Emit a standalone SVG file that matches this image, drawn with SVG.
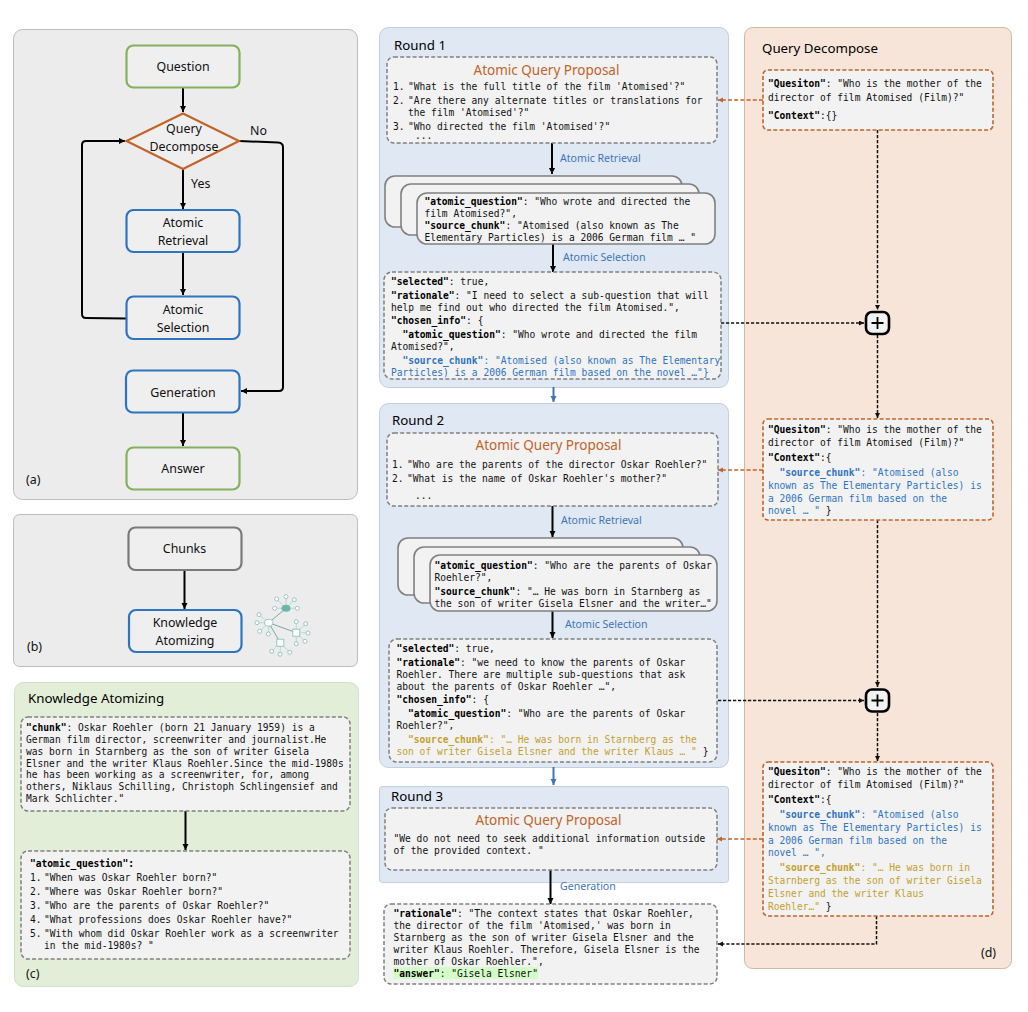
<svg xmlns="http://www.w3.org/2000/svg" width="1028" height="1012" viewBox="0 0 1028 1012">
<style>
.l{font-family:"Noto Sans","Open Sans","Liberation Sans",sans-serif;font-size:12.4px;fill:#111}
.c{text-anchor:middle}
.t{font-size:13.3px;fill:#000}
.pt{font-family:"Noto Sans","Open Sans","Liberation Sans",sans-serif;font-size:13.5px;fill:#c0642a;text-anchor:middle}
.s{font-family:"Noto Sans","Open Sans","Liberation Sans",sans-serif;font-size:10.6px;fill:#3f75b5}
.m{font-family:"DejaVu Sans Mono","Liberation Mono",monospace;font-size:9.6px;fill:#111}
.k{font-weight:700;fill:#000}
.b,.b .k{fill:#2f74c0}
.y,.y .k{fill:#c4a02c}
.panel{stroke-width:1}
.gp{fill:#ececec;stroke:#bdbdbd}
.bp{fill:#dfe8f3;stroke:#c3cfdb}
.n{fill:#efefef;stroke-width:2.2}
.gr{stroke:#85b05e}.bl{stroke:#2f74c0}.gy{stroke:#7a7a7a}
.d{fill:#f2f2f2;stroke:#808080;stroke-width:1.5;stroke-dasharray:4 2.2}
.o{fill:#f2f2f2;stroke:#c0642a;stroke-width:1.6;stroke-dasharray:4 2.2}
.st{fill:#f2f2f2;stroke:#808080;stroke-width:1.6}
.a{fill:none;stroke:#000;stroke-width:2;marker-end:url(#ab)}
.as{fill:none;stroke:#3f75b5;stroke-width:2;marker-end:url(#au)}
.ad{fill:none;stroke:#111;stroke-width:1.5;stroke-dasharray:3.2 1.8;marker-end:url(#ab2)}
.ao{fill:none;stroke:#c0642a;stroke-width:1.7;stroke-dasharray:4 2.2;marker-end:url(#ar)}
.ic{fill:#fff;stroke:#8cc3bd;stroke-width:.9}
.il{stroke:#6f9f9b;stroke-width:.9}
.is{stroke:#a5d0cb;stroke-width:.7}
.plus{fill:#f2f2f2;stroke:#000;stroke-width:2.6}
</style>
<defs>
<marker id="ab" markerUnits="userSpaceOnUse" markerWidth="7" markerHeight="7" refX="6" refY="3" orient="auto"><path d="M0 0L6 3L0 6z" fill="#000"/></marker>
<marker id="ab2" markerUnits="userSpaceOnUse" markerWidth="7" markerHeight="7" refX="5" refY="2.5" orient="auto"><path d="M0 0L5 2.5L0 5z" fill="#111"/></marker>
<marker id="au" markerUnits="userSpaceOnUse" markerWidth="7" markerHeight="7" refX="6" refY="3" orient="auto"><path d="M0 0L6 3L0 6z" fill="#3f75b5"/></marker>
<marker id="ar" markerUnits="userSpaceOnUse" markerWidth="7" markerHeight="7" refX="5" refY="2.5" orient="auto"><path d="M0 0L5 2.5L0 5z" fill="#c0642a"/></marker>
</defs>

<g id="panels">
<rect id="panel-a" class="panel gp" x="13.5" y="29.5" width="344" height="470" rx="9"/>
<rect id="panel-b" class="panel gp" x="13.5" y="514.5" width="344" height="152" rx="6"/>
<rect id="panel-c" class="panel" fill="#e3eed9" stroke="#d3dfc8" x="14.5" y="682.5" width="344" height="304" rx="9"/>
<rect id="panel-r1" class="panel bp" x="379.5" y="27.5" width="349" height="360" rx="9"/>
<rect id="panel-r2" class="panel bp" x="379.5" y="403.5" width="349" height="364" rx="9"/>
<rect id="panel-r3" class="panel bp" x="379.5" y="786.5" width="349" height="96" rx="3"/>
<rect id="panel-d" class="panel" fill="#f6e5d8" stroke="#cdb9a8" x="744.5" y="27.5" width="267" height="941" rx="8"/>
<text class="l" x="26" y="484">(a)</text>
<text class="l" x="27" y="651">(b)</text>
<text class="l" x="26" y="978">(c)</text>
<text class="l" x="981" y="957">(d)</text>
<text class="l t" x="28" y="703">Knowledge Atomizing</text>
<text class="l t" x="394" y="50">Round 1</text>
<text class="l t" x="392" y="425">Round 2</text>
<text class="l t" x="391" y="801">Round 3</text>
<text class="l t" x="762" y="53">Query Decompose</text>
</g>

<g id="connectors">
<path class="a" d="M183 87V112"/>
<path class="a" d="M183 169V209"/>
<path class="a" d="M183 252V295"/>
<path class="a" d="M126 318.500L86 318Q82 318 82 314V145Q82 141 86 141H125"/>
<path class="a" d="M239 141L278 142.500Q283 143 283 147V387Q283 391 279 391H241"/>
<path class="a" d="M183 412V446"/>
<path class="a" d="M184.500 570V609"/>
<path class="a" d="M185.500 811V850"/>
<path class="a" d="M552 143V174"/>
<path class="a" d="M553 244V272"/>
<path class="as" d="M553.500 387V402"/>
<path class="a" d="M552.500 506V537"/>
<path class="a" d="M552.500 611V638"/>
<path class="as" d="M553.500 767V785"/>
<path class="a" d="M550.500 870V904"/>
<path class="ao" d="M763 100H718"/>
<path class="ao" d="M763 470H718"/>
<path class="ao" d="M763 839H717"/>
<path class="ad" d="M877.500 130V310"/>
<path class="ad" d="M721 323H864"/>
<path class="ad" d="M877.500 335V418"/>
<path class="ad" d="M877.500 520V687"/>
<path class="ad" d="M718 700.500H864"/>
<path class="ad" d="M877.500 713V761"/>
<path class="ad" d="M876.500 916V944H718"/>
</g>

<g id="n-question"><rect class="n gr" x="126.500" y="45.500" width="113" height="42" rx="7"/><text class="l c" x="183" y="71">Question</text></g>
<g id="n-decompose"><path d="M183 113.500L239 141L183 169L126.500 141Z" fill="#efefef" stroke="#c0642a" stroke-width="2.200"/><text class="l c" x="184" y="133">Query</text><text class="l c" x="184" y="150.500">Decompose</text><text class="l" x="250" y="135">No</text><text class="l" x="191" y="188">Yes</text></g>
<g id="n-retrieval"><rect class="n bl" x="126.500" y="210" width="113" height="42" rx="7"/><text class="l c" x="183" y="227">Atomic</text><text class="l c" x="183" y="245">Retrieval</text></g>
<g id="n-selection"><rect class="n bl" x="126.500" y="296.500" width="113" height="42.500" rx="7"/><text class="l c" x="183" y="314">Atomic</text><text class="l c" x="183" y="332">Selection</text></g>
<g id="n-generation"><rect class="n bl" x="126" y="370.500" width="113.500" height="42" rx="7"/><text class="l c" x="183" y="397">Generation</text></g>
<g id="n-answer"><rect class="n gr" x="126.500" y="447.500" width="113" height="42" rx="7"/><text class="l c" x="183" y="473">Answer</text></g>
<g id="n-chunks"><rect class="n gy" x="128.500" y="527.500" width="113" height="42.500" rx="7"/><text class="l c" x="184.500" y="553">Chunks</text></g>
<g id="n-atomizing"><rect class="n bl" x="129" y="610" width="112.500" height="42" rx="7"/><text class="l c" x="185" y="627">Knowledge</text><text class="l c" x="185" y="645">Atomizing</text></g>

<g id="n-icon">
<path class="is" d="M286 608.300L276.700 599M286 608.300V596.700M286 608.300L294.300 599.700M286 608.300H274.700M286 608.300H297.300M268.700 622.700L259 614.700M268.700 622.700H257M268.700 622.700L259.700 631.300M268.700 622.700V634M296.300 632.700V621.700M296.300 632.700L305.700 623.700M296.300 632.700H308M296.300 632.700L305 641.300M296.300 632.700V643.700M280.300 642.700L271.700 651.300M280.300 642.700V654.300M280.300 642.700L289.700 652.300"/>
<path class="il" d="M268.700 622.700L286 608.300M268.700 622.700L296.300 632.700M268.700 622.700L280.300 642.700"/>
<circle class="ic" cx="276.700" cy="599" r="2"/><circle class="ic" cx="286" cy="596.700" r="2"/><circle class="ic" cx="294.300" cy="599.700" r="2"/><circle class="ic" cx="274.700" cy="608.300" r="2"/><circle class="ic" cx="297.300" cy="608.300" r="2"/>
<circle class="ic" cx="259" cy="614.700" r="2"/><circle class="ic" cx="257" cy="622.700" r="2"/><circle class="ic" cx="259.700" cy="631.300" r="2"/><circle class="ic" cx="268.300" cy="634" r="2"/>
<circle class="ic" cx="296.300" cy="621.700" r="2"/><circle class="ic" cx="305.700" cy="623.700" r="2"/><circle class="ic" cx="308" cy="633" r="2"/><circle class="ic" cx="305" cy="641.300" r="2"/><circle class="ic" cx="296.300" cy="643.700" r="2"/>
<circle class="ic" cx="271.700" cy="651.300" r="2"/><circle class="ic" cx="280" cy="654.300" r="2"/><circle class="ic" cx="289.700" cy="652.300" r="2"/>
<ellipse cx="286" cy="608.300" rx="4.500" ry="3.500" fill="#6cb5ad"/>
<ellipse class="ic" cx="268.700" cy="622.700" rx="4.200" ry="3.400"/>
<rect class="ic" x="292.800" y="629.200" width="7" height="7"/>
<rect class="ic" x="276.800" y="639.200" width="7" height="7"/>
</g>

<g id="n-chunk-text"><rect class="d" x="21" y="717" width="329" height="94" rx="7"/>
<text class="m" x="26" y="731"><tspan class="k">"chunk"</tspan>: Oskar Roehler (born 21 January 1959) is a</text>
<text class="m" x="26" y="743">German film director, screenwriter and journalist.He</text>
<text class="m" x="26" y="754.500">was born in Starnberg as the son of writer Gisela</text>
<text class="m" x="26" y="766.500">Elsner and the writer Klaus Roehler.Since the mid-1980s</text>
<text class="m" x="26" y="778">he has been working as a screenwriter, for, among</text>
<text class="m" x="26" y="790">others, Niklaus Schilling, Christoph Schlingensief and</text>
<text class="m" x="26" y="801.500">Mark Schlichter."</text></g>

<g id="n-atomic-questions"><rect class="d" x="21" y="851" width="329" height="108" rx="7"/>
<text class="m k" x="30" y="867">"atomic_question":</text>
<text class="m" x="30" y="881">1.</text><text class="m" x="44" y="881">"When was Oskar Roehler born?"</text>
<text class="m" x="30" y="895">2.</text><text class="m" x="44" y="895">"Where was Oskar Roehler born?"</text>
<text class="m" x="30" y="909">3.</text><text class="m" x="44" y="909">"Who are the parents of Oskar Roehler?"</text>
<text class="m" x="30" y="922.500">4.</text><text class="m" x="44" y="922.500">"What professions does Oskar Roehler have?"</text>
<text class="m" x="30" y="936.500">5.</text><text class="m" x="44" y="936.500">"With whom did Oskar Roehler work as a screenwriter</text>
<text class="m" x="44" y="948.500">in the mid-1980s? "</text></g>

<g id="n-r1-proposal"><rect class="d" x="387" y="57" width="330" height="86" rx="7"/>
<text class="pt" x="546.500" y="75">Atomic Query Proposal</text>
<text class="m" x="393" y="90">1.</text><text class="m" x="408" y="90">"What is the full title of the film 'Atomised'?"</text>
<text class="m" x="393" y="104">2.</text><text class="m" x="408" y="104">"Are there any alternate titles or translations for</text>
<text class="m" x="408" y="116">the film 'Atomised'?"</text>
<text class="m" x="393" y="130">3.</text><text class="m" x="408" y="130">"Who directed the film 'Atomised'?"</text>
<text class="m" x="415" y="139">...</text></g>

<g id="n-r1-stack"><rect class="st" x="385" y="176" width="297" height="51" rx="10"/><rect class="st" x="401" y="184" width="298" height="51" rx="10"/><rect class="st" x="417" y="193" width="298" height="51" rx="10"/>
<text class="m" x="424.500" y="205"><tspan class="k">"atomic_question"</tspan>: "Who wrote and directed the</text>
<text class="m" x="424.500" y="217">film Atomised?",</text>
<text class="m" x="424.500" y="229"><tspan class="k">"source_chunk"</tspan>: "Atomised (also known as The</text>
<text class="m" x="424.500" y="241">Elementary Particles) is a 2006 German film … "</text></g>

<g id="n-r1-selected"><rect class="d" x="384" y="272" width="337" height="107" rx="8"/>
<text class="m" x="391" y="285"><tspan class="k">"selected"</tspan>: true,</text>
<text class="m" x="391" y="299"><tspan class="k">"rationale"</tspan>: "I need to select a sub-question that will</text>
<text class="m" x="391" y="311">help me find out who directed the film Atomised.",</text>
<text class="m" x="391" y="324"><tspan class="k">"chosen_info"</tspan>: {</text>
<text class="m" x="402.500" y="338"><tspan class="k">"atomic_question"</tspan>: "Who wrote and directed the film</text>
<text class="m" x="391" y="350">Atomised?",</text>
<text class="m b" x="402.500" y="364"><tspan class="k">"source_chunk"</tspan>: "Atomised (also known as The Elementary</text>
<text class="m b" x="391" y="376">Particles) is a 2006 German film based on the novel …"}</text></g>

<g id="n-r2-proposal"><rect class="d" x="387" y="433" width="331" height="73" rx="7"/>
<text class="pt" x="548.500" y="450">Atomic Query Proposal</text>
<text class="m" x="392" y="468">1.</text><text class="m" x="407" y="468">"Who are the parents of the director Oskar Roehler?"</text>
<text class="m" x="392" y="482">2.</text><text class="m" x="407" y="482">"What is the name of Oskar Roehler's mother?"</text>
<text class="m" x="415" y="499">...</text></g>

<g id="n-r2-stack"><rect class="st" x="398" y="538" width="285" height="57" rx="10"/><rect class="st" x="414" y="547" width="286" height="56" rx="10"/><rect class="st" x="430" y="555" width="287" height="56" rx="10"/>
<text class="m" x="434.500" y="569"><tspan class="k">"atomic_question"</tspan>: "Who are the parents of Oskar</text>
<text class="m" x="434.500" y="581">Roehler?",</text>
<text class="m" x="434.500" y="595"><tspan class="k">"source_chunk"</tspan>: "… He was born in Starnberg as</text>
<text class="m" x="434.500" y="607">the son of writer Gisela Elsner and the writer…"</text></g>

<g id="n-r2-selected"><rect class="d" x="389" y="639" width="328" height="123" rx="8"/>
<text class="m" x="396.500" y="652"><tspan class="k">"selected"</tspan>: true,</text>
<text class="m" x="396.500" y="666"><tspan class="k">"rationale"</tspan>: "we need to know the parents of Oskar</text>
<text class="m" x="396.500" y="677.500">Roehler. There are multiple sub-questions that ask</text>
<text class="m" x="396.500" y="689.500">about the parents of Oskar Roehler …",</text>
<text class="m" x="396.500" y="703"><tspan class="k">"chosen_info"</tspan>: {</text>
<text class="m" x="408" y="717"><tspan class="k">"atomic_question"</tspan>: "Who are the parents of Oskar</text>
<text class="m" x="396.500" y="729">Roehler?",</text>
<text class="m y" x="408" y="743"><tspan class="k">"source_chunk"</tspan>: "… He was born in Starnberg as the</text>
<text class="m" x="396.500" y="755"><tspan class="y">son of writer Gisela Elsner and the writer Klaus … "</tspan> }</text></g>

<g id="n-r3-proposal"><rect class="d" x="385" y="808" width="332" height="62" rx="7"/>
<text class="pt" x="548.500" y="825">Atomic Query Proposal</text>
<text class="m" x="393.500" y="842">"We do not need to seek additional information outside</text>
<text class="m" x="393.500" y="854">of the provided context. "</text></g>

<g id="n-answer-box"><rect class="d" x="384" y="904" width="333" height="80" rx="7"/>
<rect x="393" y="967" width="145" height="12" fill="#d4fcc8"/>
<text class="m" x="393.500" y="917"><tspan class="k">"rationale"</tspan>: "The context states that Oskar Roehler,</text>
<text class="m" x="393.500" y="929">the director of the film 'Atomised,' was born in</text>
<text class="m" x="393.500" y="941">Starnberg as the son of writer Gisela Elsner and the</text>
<text class="m" x="393.500" y="953">writer Klaus Roehler. Therefore, Gisela Elsner is the</text>
<text class="m" x="393.500" y="964.500">mother of Oskar Roehler.",</text>
<text class="m" x="393.500" y="976.500"><tspan class="k">"answer"</tspan>: "Gisela Elsner"</text></g>

<g id="n-q1"><rect class="o" x="763" y="70" width="230" height="60" rx="5"/>
<text class="m" x="768" y="87"><tspan class="k">"Quesiton"</tspan>: "Who is the mother of the</text>
<text class="m" x="768" y="100.500">director of film Atomised (Film)?"</text>
<text class="m" x="768" y="118.500"><tspan class="k">"Context"</tspan>:{}</text></g>

<g id="n-plus1"><rect class="plus" x="866" y="312" width="23" height="22" rx="6"/><path d="M871.500 323H883.500M877.500 317V329" stroke="#000" stroke-width="1.800" fill="none"/></g>

<g id="n-q2"><rect class="o" x="763" y="419" width="230" height="101" rx="5"/>
<text class="m" x="768" y="433"><tspan class="k">"Quesiton"</tspan>: "Who is the mother of the</text>
<text class="m" x="768" y="446">director of film Atomised (Film)?"</text>
<text class="m" x="768" y="461"><tspan class="k">"Context"</tspan>:{</text>
<text class="m b" x="779.500" y="476"><tspan class="k">"source_chunk"</tspan>: "Atomised (also</text>
<text class="m b" x="768" y="488.500">known as The Elementary Particles) is</text>
<text class="m b" x="768" y="501.500">a 2006 German film based on the</text>
<text class="m" x="768" y="514"><tspan class="b">novel … "</tspan> }</text></g>

<g id="n-plus2"><rect class="plus" x="866" y="689.500" width="23" height="22" rx="6"/><path d="M871.500 700.500H883.500M877.500 694.500V706.500" stroke="#000" stroke-width="1.800" fill="none"/></g>

<g id="n-q3"><rect class="o" x="763" y="762" width="230" height="154" rx="5"/>
<text class="m" x="768" y="775"><tspan class="k">"Quesiton"</tspan>: "Who is the mother of the</text>
<text class="m" x="768" y="788">director of film Atomised (Film)?"</text>
<text class="m" x="768" y="803"><tspan class="k">"Context"</tspan>:{</text>
<text class="m b" x="779.500" y="818"><tspan class="k">"source_chunk"</tspan>: "Atomised (also</text>
<text class="m b" x="768" y="830.500">known as The Elementary Particles) is</text>
<text class="m b" x="768" y="843.500">a 2006 German film based on the</text>
<text class="m b" x="768" y="856">novel … ",</text>
<text class="m y" x="779.500" y="871"><tspan class="k">"source_chunk"</tspan>: "… He was born in</text>
<text class="m y" x="768" y="884">Starnberg as the son of writer Gisela</text>
<text class="m y" x="768" y="897">Elsner and the writer Klaus</text>
<text class="m" x="768" y="909.500"><tspan class="y">Roehler…"</tspan> }</text></g>

<g id="connector-labels">
<text class="s" x="560" y="162">Atomic Retrieval</text>
<text class="s" x="563" y="261">Atomic Selection</text>
<text class="s" x="561" y="524">Atomic Retrieval</text>
<text class="s" x="565" y="628">Atomic Selection</text>
<text class="s" x="560" y="890">Generation</text>
</g>
</svg>
